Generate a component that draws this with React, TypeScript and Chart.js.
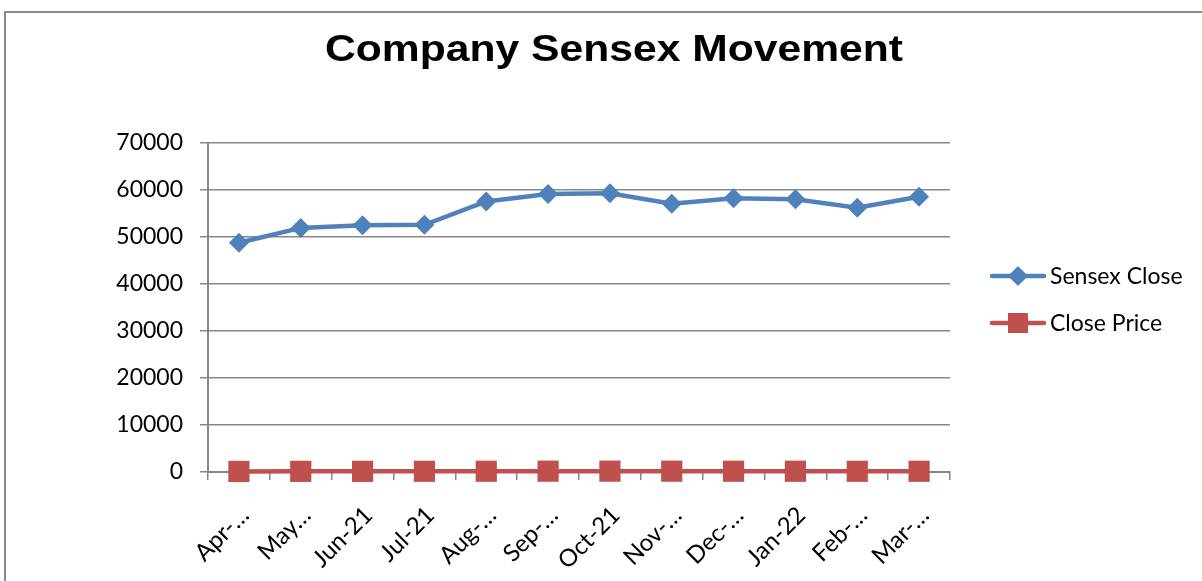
import React, { useEffect, useRef } from "react";
import { Chart, registerables } from "chart.js";

Chart.register(...registerables);

const TITLE = "Company Sensex Movement";
const categories = ["Apr-…", "May…", "Jun-21", "Jul-21", "Aug-…", "Sep-…", "Oct-21", "Nov-…", "Dec-…", "Jan-22", "Feb-…", "Mar-…"];
const sensexClose = [48782, 51937, 52482, 52586, 57552, 59126, 59307, 57064, 58253, 58014, 56247, 58568];
const closePrice = [120, 135, 140, 150, 160, 175, 180, 170, 165, 160, 150, 155];
const seriesNames = ["Sensex Close", "Close Price"];
const yTicks = [0, 10000, 20000, 30000, 40000, 50000, 60000, 70000];

const BLUE = "#4F81BD";
const RED = "#C0504D";
const GRID = "#878787";
const TICK_FONT = "Lato";

const framePlugin = {
  id: "frame",
  beforeDraw(chart: any) {
    const ctx = chart.ctx;
    ctx.save();
    ctx.fillStyle = "#ffffff";
    ctx.fillRect(0, 0, chart.width, chart.height);
    ctx.strokeStyle = "#8a8a8a";
    ctx.lineWidth = 2;
    ctx.beginPath();
    ctx.moveTo(5, chart.height + 2);
    ctx.lineTo(5, 12);
    ctx.lineTo(chart.width + 2, 12);
    ctx.stroke();
    ctx.restore();
  },
  afterDraw(chart: any) {
    const ctx = chart.ctx;
    ctx.save();
    // title (horizontally stretched like the original)
    ctx.fillStyle = "#000";
    ctx.font = "bold 36px 'Liberation Sans', Arial, sans-serif";
    ctx.textBaseline = "alphabetic";
    ctx.textAlign = "left";
    const w = ctx.measureText(TITLE).width;
    const sx = 578 / w;
    ctx.save();
    ctx.translate(325, 61);
    ctx.scale(sx, 1);
    ctx.fillText(TITLE, 0, 0);
    ctx.restore();
    // legend
    const items = [
      { name: seriesNames[0], color: BLUE, style: "diamond", y: 276 },
      { name: seriesNames[1], color: RED, style: "square", y: 323 },
    ];
    for (const it of items) {
      ctx.strokeStyle = it.color;
      ctx.fillStyle = it.color;
      ctx.lineWidth = 4.5;
      ctx.lineCap = "round";
      ctx.beginPath();
      ctx.moveTo(992, it.y);
      ctx.lineTo(1044, it.y);
      ctx.stroke();
      ctx.beginPath();
      if (it.style === "diamond") {
        ctx.moveTo(1018, it.y - 10);
        ctx.lineTo(1028, it.y);
        ctx.lineTo(1018, it.y + 10);
        ctx.lineTo(1008, it.y);
        ctx.closePath();
        ctx.fill();
      } else {
        ctx.fillRect(1008, it.y - 10, 20, 20);
      }
      ctx.fillStyle = "#000";
      ctx.font = `23px ${TICK_FONT}`;
      ctx.textBaseline = "middle";
      ctx.fillText(it.name, 1050, it.y + 1);
    }
    ctx.restore();
  },
};

export default function App() {
  const ref = useRef<HTMLCanvasElement | null>(null);
  useEffect(() => {
    if (!ref.current) return;
    const chart = new Chart(ref.current, {
      type: "line",
      data: {
        labels: categories,
        datasets: [
          {
            label: seriesNames[0],
            data: sensexClose,
            borderColor: BLUE,
            backgroundColor: BLUE,
            borderWidth: 4.5,
            pointStyle: "rectRot",
            pointRadius: 10,
            pointBorderWidth: 0,
            tension: 0,
            clip: false,
          },
          {
            label: seriesNames[1],
            data: closePrice,
            borderColor: RED,
            backgroundColor: RED,
            borderWidth: 4.5,
            pointStyle: "rect",
            pointRadius: 15,
            pointBorderWidth: 0,
            tension: 0,
            clip: false,
          },
        ],
      },
      options: {
        responsive: false,
        animation: false,
        layout: { padding: { top: 143, left: 0, right: 252, bottom: 0 } },
        plugins: {
          legend: { display: false },
          title: { display: false },
          tooltip: { enabled: false },
        },
        scales: {
          x: {
            offset: true,
            grid: {
              display: true,
              offset: true,
              drawOnChartArea: false,
              drawTicks: true,
              tickLength: 8,
              color: GRID,
              lineWidth: 1.5,
            },
            border: { display: true, color: GRID, width: 2 },
            ticks: {
              color: "#000",
              font: { family: TICK_FONT, size: 24 },
              maxRotation: 45,
              minRotation: 45,
              autoSkip: false,
              padding: 21,
              labelOffset: 6,
            },
            afterFit: (s: any) => { s.height = 109; },
          },
          y: {
            min: 0,
            max: 70000,
            afterBuildTicks: (s: any) => { s.ticks = yTicks.map((v) => ({ value: v })); },
            grid: {
              color: GRID,
              lineWidth: 1.5,
              drawTicks: true,
              tickLength: 8,
            },
            border: { display: true, color: GRID, width: 2 },
            ticks: {
              color: "#000",
              font: { family: TICK_FONT, size: 23 },
              padding: 17,
              callback: (v: any) => String(v),
            },
            afterFit: (s: any) => { s.width = 208; },
          },
        },
      },
      plugins: [framePlugin],
    });
    return () => chart.destroy();
  }, []);
  return (
    <div style={{ position: "fixed", left: 0, top: 0, width: 1202, height: 581 }}>
      <canvas ref={ref} width={1202} height={581} style={{ display: "block" }} />
    </div>
  );
}
